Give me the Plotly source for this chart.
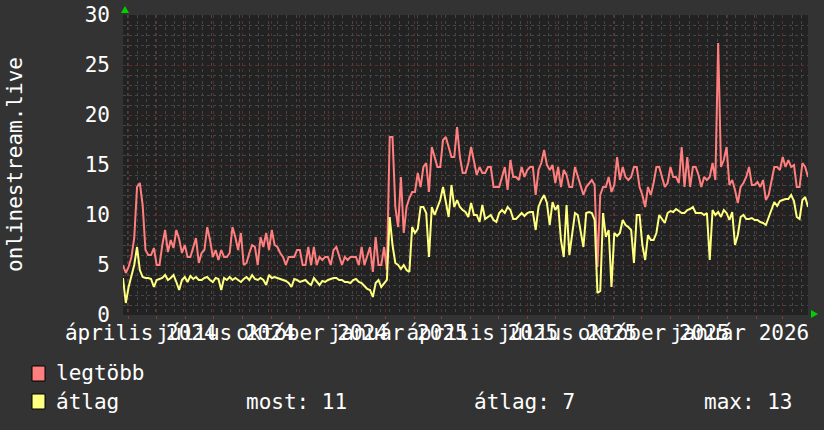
import pandas as pd
import plotly.graph_objects as go

# ---------------- data ----------------
start_date = "2024-03-26"
step = "3D"

legtobb = [
    5.0, 4.2, 4.8, 5.8, 7.7, 12.8, 13.2, 11.0, 6.5, 6.0,
    6.0, 6.7, 5.0, 5.0, 7.0, 8.5, 6.3, 7.5, 6.7, 8.5,
    7.6, 6.2, 7.0, 5.8, 5.8, 6.7, 7.7, 5.2, 6.2, 6.5,
    8.8, 7.5, 5.8, 6.5, 5.5, 6.5, 5.8, 5.8, 6.2, 8.8,
    7.8, 6.5, 8.2, 5.0, 5.2, 6.2, 7.0, 6.8, 5.0, 7.8,
    6.8, 8.2, 6.5, 8.5, 7.0, 6.8, 6.2, 5.8, 5.0, 5.8,
    5.8, 5.8, 6.5, 6.5, 5.0, 5.0, 6.8, 5.0, 6.8, 5.0,
    5.8, 5.5, 5.8, 5.8, 5.0, 6.5, 6.8, 6.0, 5.0, 5.8,
    5.5, 5.8, 5.8, 5.8, 5.0, 6.8, 5.0, 5.8, 6.8, 4.3,
    7.8, 5.0, 5.0, 6.8, 4.5, 17.8, 17.8, 10.8, 8.8, 13.8,
    8.2, 10.8, 11.7, 12.3, 12.3, 14.2, 12.8, 14.8, 15.2, 12.3,
    16.8, 15.8, 14.8, 14.8, 17.5, 17.8, 16.8, 15.8, 15.8, 18.8,
    15.8, 14.2, 14.2, 15.2, 16.8, 15.2, 14.0, 14.8, 14.2, 14.2,
    14.8, 14.8, 12.8, 12.8, 12.8, 13.8, 14.8, 12.5, 15.5, 13.8,
    13.8, 13.5, 14.8, 13.8, 14.5, 14.8, 14.8, 12.0, 14.5, 15.2,
    16.5, 15.0, 14.5, 15.0, 13.2, 14.8, 12.8, 14.5, 14.0, 12.8,
    12.8, 14.8, 13.8, 12.8, 12.0, 12.8, 13.2, 13.5, 13.0, 4.8,
    12.0, 12.8, 12.8, 13.8, 12.3, 13.0, 15.8, 13.5, 14.8, 13.8,
    13.5, 13.8, 14.8, 14.8, 12.8, 12.0, 10.8, 12.8, 12.0, 13.2,
    14.8, 14.8, 13.8, 12.8, 13.2, 14.8, 13.8, 13.8, 13.2, 16.8,
    12.8, 15.8, 12.8, 14.8, 14.8, 14.0, 12.8, 13.8, 13.5, 13.8,
    15.2, 13.5, 27.2, 14.8, 15.5, 16.8, 13.0, 13.5, 12.5, 11.2,
    12.8, 13.2, 13.8, 14.8, 13.0, 13.0, 13.3, 12.8, 13.5, 11.5,
    12.0, 13.5, 14.8, 14.8, 14.5, 15.8, 14.8, 15.5, 14.8, 15.0,
    12.8, 12.8, 15.2, 14.8, 13.8,
]

atlag = [
    3.7, 1.2, 2.8, 3.8, 5.0, 6.8, 4.5, 3.8, 3.7, 3.7,
    3.6, 2.8, 3.5, 3.6, 3.7, 4.0, 3.5, 3.7, 4.0, 3.3,
    2.5, 3.5, 3.8, 3.3, 3.9, 3.6, 3.8, 3.5, 3.5, 3.7,
    3.8, 3.5, 3.3, 3.7, 3.6, 2.5, 3.7, 3.5, 3.8, 3.5,
    3.7, 3.5, 3.3, 3.6, 3.8, 3.5, 4.0, 3.6, 3.5, 3.7,
    3.5, 3.0, 4.0, 3.7, 3.8, 3.7, 3.6, 3.5, 3.4, 3.2,
    2.8, 3.6, 3.5, 3.3, 3.4, 3.5, 3.2, 3.0, 3.7, 3.3,
    3.0, 3.4, 3.3, 3.5, 3.6, 3.7, 3.7, 3.5, 3.5, 3.3,
    3.3, 3.2, 3.5, 3.6, 3.3, 3.2, 2.9, 2.6, 2.5, 1.8,
    3.2, 3.5, 2.8, 3.2, 3.5, 9.8, 7.0, 5.2, 5.0, 4.6,
    5.0, 4.5, 4.3, 8.8, 8.2, 8.6, 10.8, 10.8, 10.2, 5.8,
    10.8, 10.0, 10.8, 11.5, 12.8, 11.2, 9.8, 13.0, 10.8, 11.5,
    10.8, 10.5, 10.3, 9.8, 11.2, 10.0, 10.0, 9.3, 11.0, 9.6,
    9.8, 10.0, 9.5, 9.3, 10.2, 10.5, 10.2, 10.8, 10.5, 9.6,
    9.6, 9.9, 10.2, 9.9, 10.2, 10.3, 10.3, 8.5, 10.8, 11.5,
    12.0, 11.2, 9.0, 11.3, 10.5, 11.0, 7.5, 5.8, 11.0, 6.0,
    8.0, 10.2, 10.0, 8.5, 6.8, 10.2, 10.3, 10.2, 9.5, 2.2,
    2.4, 10.2, 7.8, 8.5, 2.8, 8.2, 7.9, 8.2, 9.5, 9.0,
    8.8, 8.5, 5.2, 10.0, 10.0, 7.0, 5.5, 8.0, 7.5, 7.5,
    8.2, 10.0, 9.6, 9.2, 10.2, 10.4, 10.3, 10.6, 10.4, 10.2,
    10.2, 10.5, 10.6, 10.8, 10.2, 10.2, 10.2, 10.0, 10.2, 5.5,
    10.5, 10.0, 10.3, 9.8, 10.5, 10.2, 9.5, 10.3, 7.0, 8.0,
    9.8, 10.0, 9.6, 9.6, 9.7, 9.5, 9.5, 9.3, 9.2, 9.0,
    9.8, 10.4, 11.3, 10.9, 11.4, 11.5, 11.6, 11.6, 12.0, 11.4,
    9.8, 9.6, 11.5, 11.8, 10.8,
]

dates = pd.date_range(start_date, periods=len(legtobb), freq=step)

x_range = ["2024-03-26", "2026-03-28"]
y_ticks = [0, 5, 10, 15, 20, 25, 30]
label_dates = ["2024-04-14", "2024-07-14", "2024-10-14", "2025-01-14",
               "2025-04-14", "2025-07-14", "2025-10-14", "2026-01-14"]
label_texts = ["április 2024", "július 2024", "október 2024", "január 2025",
               "április 2025", "július 2025", "október 2025", "január 2026"]

series_names = ["legtöbb", "átlag"]
stat_texts = ["most: 11", "átlag: 7", "max: 13"]
y_title = "onlinestream.live"

# ---------------- style ----------------
W, H = 824, 430
L, R, T, B = 123, 808, 15, 315
FONT = "DejaVu Sans Mono"
FS = 21
RED = "#ff7f7f"
YEL = "#ffff80"
BG = "#333333"
PLOT_BG = "#222222"
MINOR = "#464646"
MAJOR = "#5c2e2e"


def px(x):
    return (x - L) / (R - L)


def py(y):
    return (B - y) / (B - T)


fig = go.Figure()
fig.add_trace(go.Scatter(x=dates, y=legtobb, mode="lines", name=series_names[0],
                         line=dict(color=RED, width=2), hoverinfo="skip"))
fig.add_trace(go.Scatter(x=dates, y=atlag, mode="lines", name=series_names[1],
                         line=dict(color=YEL, width=2), hoverinfo="skip"))
# invisible trace to activate the overlay axis carrying the monthly grid
fig.add_trace(go.Scatter(x=[x_range[0], x_range[1]], y=[0, 0], xaxis="x2",
                         mode="markers", marker=dict(opacity=0), hoverinfo="skip",
                         showlegend=False))

fig.update_layout(
    width=W, height=H,
    margin=dict(l=L, r=W - R, t=T, b=H - B, autoexpand=False),
    paper_bgcolor=BG, plot_bgcolor=PLOT_BG,
    showlegend=False,
    font=dict(family=FONT, size=FS, color="#ffffff"),
    xaxis=dict(
        type="date", range=x_range, showgrid=False, zeroline=False,
        tickmode="array", tickvals=label_dates, ticktext=label_texts,
        ticks="", ticklabelstandoff=3, tickangle=0, automargin=False,
        tickfont=dict(family=FONT, size=FS, color="#ffffff"),
        minor=dict(dtick=10 * 86400000, tick0="2024-01-01", showgrid=True,
                   gridcolor=MINOR, griddash="dot", gridwidth=1),
        showline=False, fixedrange=True,
    ),
    xaxis2=dict(
        type="date", range=x_range, overlaying="x", side="bottom",
        dtick="M1", tick0="2024-01-01", showgrid=True, gridcolor=MAJOR,
        griddash="dot", gridwidth=1, showticklabels=False, automargin=False,
        ticks="outside", ticklen=3, tickcolor="#8a3a3a", zeroline=False,
        showline=False, fixedrange=True,
    ),
    yaxis=dict(
        range=[0, 30], tickvals=y_ticks, showgrid=True, gridcolor=MAJOR,
        griddash="dot", gridwidth=1, zeroline=False, ticks="",
        ticklabelstandoff=12, automargin=False,
        tickfont=dict(family=FONT, size=FS, color="#ffffff"),
        minor=dict(dtick=1, showgrid=True, gridcolor=MINOR, griddash="dot",
                   gridwidth=1),
        showline=False, fixedrange=True,
    ),
)

shapes = []
# axis arrows (green)
shapes.append(dict(type="path", xref="paper", yref="paper",
                   path=f"M {px(121)} {py(13)} L {px(129)} {py(13)} L {px(125)} {py(6)} Z",
                   fillcolor="#00d000", line=dict(width=0)))
shapes.append(dict(type="path", xref="paper", yref="paper",
                   path=f"M {px(811)} {py(310)} L {px(811)} {py(318)} L {px(818)} {py(314)} Z",
                   fillcolor="#00d000", line=dict(width=0)))
# legend swatches
shapes.append(dict(type="rect", xref="paper", yref="paper",
                   x0=px(32), x1=px(45), y0=py(366), y1=py(381),
                   fillcolor=RED, line=dict(color="#000000", width=1)))
shapes.append(dict(type="rect", xref="paper", yref="paper",
                   x0=px(32), x1=px(45), y0=py(394), y1=py(409),
                   fillcolor=YEL, line=dict(color="#000000", width=1)))
fig.update_layout(shapes=shapes)

annotations = [
    dict(text=y_title, textangle=-90, x=px(15), y=0.5, xref="paper", yref="paper",
         xanchor="center", yanchor="middle", showarrow=False,
         font=dict(family=FONT, size=FS, color="#ffffff")),
    dict(text=series_names[0], x=px(54), y=py(373), xref="paper", yref="paper",
         xanchor="left", yanchor="middle", showarrow=False),
    dict(text=series_names[1], x=px(54), y=py(402), xref="paper", yref="paper",
         xanchor="left", yanchor="middle", showarrow=False),
    dict(text=stat_texts[0], x=px(244), y=py(402), xref="paper", yref="paper",
         xanchor="left", yanchor="middle", showarrow=False),
    dict(text=stat_texts[1], x=px(472), y=py(402), xref="paper", yref="paper",
         xanchor="left", yanchor="middle", showarrow=False),
    dict(text=stat_texts[2], x=px(702), y=py(402), xref="paper", yref="paper",
         xanchor="left", yanchor="middle", showarrow=False),
]
fig.update_layout(annotations=annotations)

fig.write_html(
    "out.html",
    config={"displayModeBar": False, "staticPlot": True},
    post_script="document.body.style.margin='0';document.body.style.background='#333333';",
)
